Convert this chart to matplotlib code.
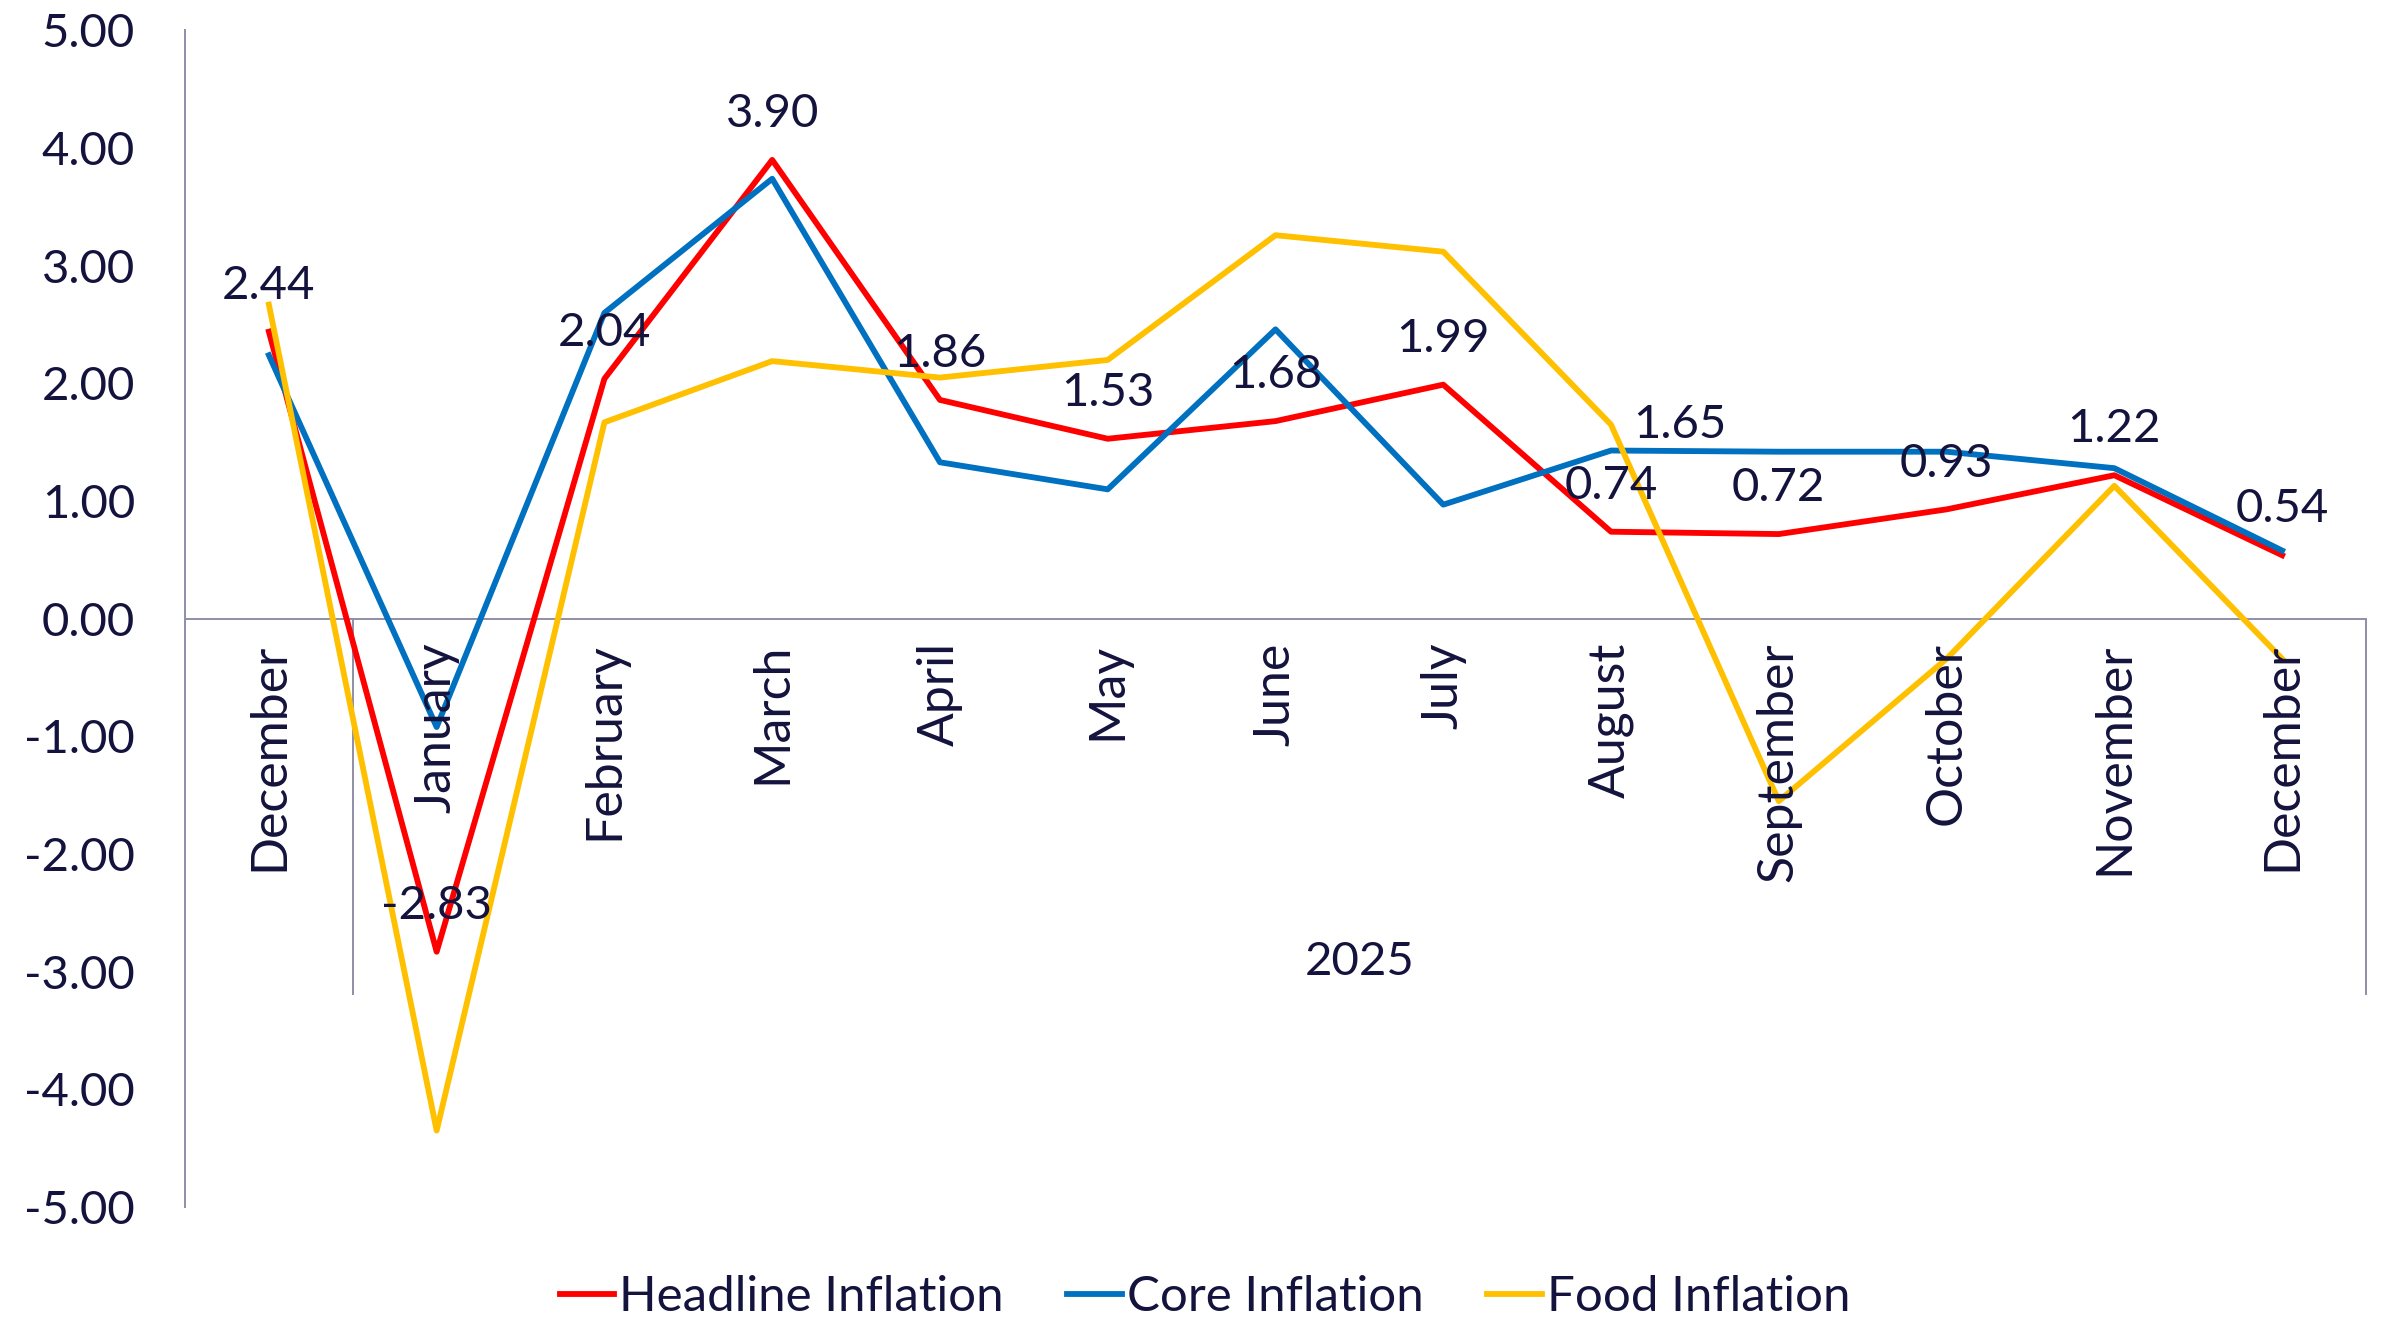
import matplotlib
matplotlib.use('Agg')
import matplotlib.pyplot as plt

months = ['December', 'January', 'February', 'March', 'April', 'May', 'June',
          'July', 'August', 'September', 'October', 'November', 'December']
year_label = '2025'
headline = [2.44, -2.83, 2.04, 3.90, 1.86, 1.53, 1.68, 1.99, 0.74, 0.72, 0.93, 1.22, 0.54]
core = [2.24, -0.92, 2.60, 3.74, 1.33, 1.10, 2.46, 0.97, 1.43, 1.42, 1.42, 1.28, 0.58]
food = [2.67, -4.35, 1.67, 2.19, 2.05, 2.20, 3.26, 3.12, 1.65, -1.55, -0.34, 1.13, -0.34]
food_label_idx = 8
yticks = [5, 4, 3, 2, 1, 0, -1, -2, -3, -4, -5]

text_col = '#13133d'
axis_col = '#8e8ea8'
fs = 34
lw = 4.2

plt.rcParams['font.family'] = ['Lato', 'DejaVu Sans']

fig = plt.figure(figsize=(23.81, 13.26), dpi=100)
ax = fig.add_axes([0.0777, 0.0897, 0.9160, 0.8873])

x = list(range(len(months)))
ax.plot(x, headline, color='#ff0000', lw=lw, label='Headline Inflation', zorder=3)
ax.plot(x, core, color='#0070c0', lw=lw, label='Core Inflation', zorder=4)
ax.plot(x, food, color='#ffc000', lw=lw, label='Food Inflation', zorder=5)

ax.set_xlim(-0.5, len(months) - 0.5)
ax.set_ylim(-5, 5)
ax.set_yticks(yticks)
ax.set_yticklabels([f'{v:.2f}' for v in yticks])
ax.tick_params(axis='y', length=0, pad=36, labelsize=fs, labelcolor=text_col)
ax.set_xticks([])

for s in ['top', 'right', 'bottom']:
    ax.spines[s].set_visible(False)
ax.spines['left'].set_color(axis_col)
ax.spines['left'].set_linewidth(1.4)

# category axis at zero
ax.axhline(0, color=axis_col, lw=1.4, zorder=2)
sep_bottom = -3.19
ax.plot([0.5, 0.5], [0, sep_bottom], color=axis_col, lw=1.4, clip_on=False, zorder=2)
ax.plot([len(months) - 0.5] * 2, [0, sep_bottom], color=axis_col, lw=1.4, clip_on=False, zorder=2)

for i, m in enumerate(months):
    ax.annotate(m, (i, 0), xytext=(0, -17), textcoords='offset points',
                rotation=90, ha='center', va='top', fontsize=36, color=text_col, zorder=6)

ax.text((1 + len(months) - 1) / 2, -2.92, year_label, ha='center', va='center',
        fontsize=fs, color=text_col)

# data labels
for i, v in enumerate(headline):
    ax.annotate(f'{v:.2f}', (i, v), xytext=(0, 33), textcoords='offset points',
                ha='center', va='center', fontsize=fs, color=text_col, zorder=7)
ax.annotate(f'{food[food_label_idx]:.2f}', (food_label_idx, food[food_label_idx]),
            xytext=(16, 0), textcoords='offset points', ha='left', va='center',
            fontsize=fs, color=text_col, zorder=7)

leg = fig.legend(loc='center', bbox_to_anchor=(0.506, 0.022), ncol=3, frameon=False,
                 fontsize=35.5, handlelength=1.1, handletextpad=0.1, columnspacing=1.3)
for t in leg.get_texts():
    t.set_color(text_col)

fig.savefig('out.png', dpi=100)
